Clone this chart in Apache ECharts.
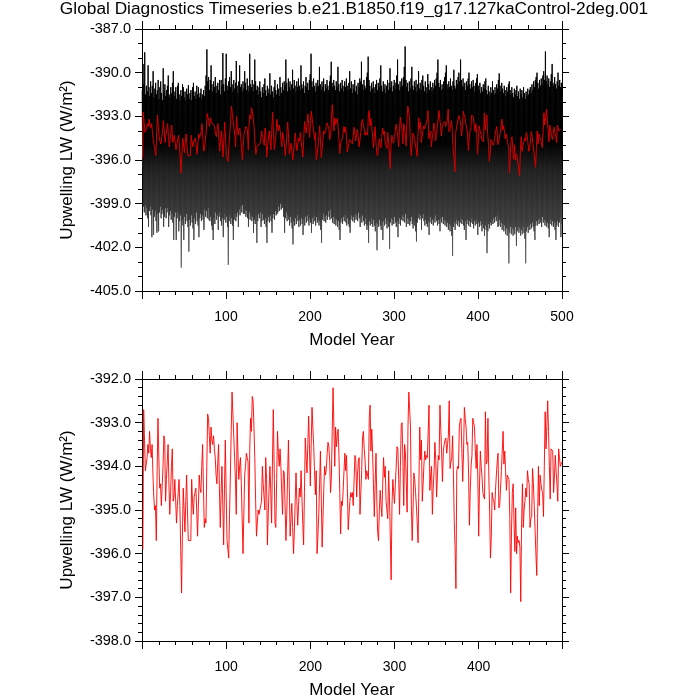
<!DOCTYPE html>
<html>
<head>
<meta charset="utf-8">
<script src="https://cdn.jsdelivr.net/npm/echarts@6/dist/echarts.min.js"></script>
<style>
html,body{margin:0;padding:0;background:#fff;}
#chart{width:700px;height:700px;}
</style>
</head>
<body>
<div id="chart"></div>
<script>
const titleText = 'Global Diagnostics Timeseries b.e21.B1850.f19_g17.127kaControl-2deg.001';
const yAxisTitle = 'Upwelling LW (W/m\u00B2)';
const xAxisTitle = 'Model Year';

// Annual global means (years 1..499)
const annualMean = [
-395.9,-392.7,-393.4,-394.1,-394.1,-393.8,-393.5,-393.7,-393.2,-393.6,
-393.8,-393.5,-394.2,-394.7,-395.0,-394.9,-395.7,-394.1,-392.9,-393.8,
-394.5,-394.4,-394.9,-394.9,-394.0,-393.3,-393.4,-394.8,-394.3,-393.9,
-393.5,-394.4,-395.1,-394.6,-394.0,-393.6,-394.8,-394.7,-394.3,-394.8,
-395.3,-394.9,-394.6,-394.3,-394.9,-395.9,-396.9,-395.6,-394.5,-395.0,
-395.5,-394.8,-394.2,-395.0,-395.7,-395.7,-395.7,-395.7,-394.3,-394.8,
-395.1,-394.7,-394.6,-394.5,-395.0,-395.6,-394.9,-394.2,-394.5,-394.6,
-394.0,-393.5,-394.5,-395.4,-395.2,-395.3,-394.0,-392.8,-392.9,-393.3,
-393.7,-393.1,-393.4,-393.5,-393.3,-393.6,-393.8,-394.2,-394.4,-393.9,
-393.5,-394.5,-395.4,-394.6,-394.0,-394.9,-395.8,-394.5,-393.4,-394.6,
-395.7,-395.9,-396.1,-395.1,-394.2,-393.2,-392.3,-392.8,-393.3,-393.8,
-394.3,-395.1,-393.0,-393.7,-394.3,-394.0,-393.8,-394.4,-395.2,-396.0,
-395.1,-394.2,-394.0,-393.7,-393.8,-393.9,-395.3,-393.6,-392.9,-393.2,
-392.4,-392.5,-393.1,-393.8,-394.8,-395.6,-395.3,-395.0,-395.1,-395.0,
-394.9,-394.8,-394.0,-394.4,-394.7,-395.0,-393.8,-394.3,-395.8,-395.1,
-394.5,-394.0,-394.6,-395.3,-393.9,-392.7,-394.0,-395.3,-395.4,-394.3,
-393.2,-393.7,-394.0,-393.6,-394.0,-394.6,-395.1,-394.1,-394.15,-394.9,
-395.7,-395.1,-394.2,-393.4,-394.5,-395.6,-395.2,-394.85,-395.4,-396.0,
-395.5,-394.8,-394.15,-394.8,-395.35,-394.9,-394.5,-394.7,-394.1,-394.7,
-395.3,-395.8,-394.6,-393.35,-393.8,-394.15,-393.5,-392.85,-393.6,-394.45,
-393.5,-392.65,-393.1,-393.55,-394.1,-394.65,-394.1,-396.0,-395.6,-395.1,
-394.4,-393.65,-394.7,-395.85,-395.2,-394.5,-394.0,-394.2,-394.05,-393.7,
-393.45,-393.55,-393.9,-394.6,-394.25,-393.2,-392.2,-393.1,-394.0,-393.1,
-393.55,-393.3,-393.15,-393.75,-394.6,-395.55,-394.8,-394.9,-394.55,-394.1,
-393.7,-394.1,-393.75,-394.5,-395.45,-395.1,-394.8,-394.6,-394.7,-394.6,
-394.9,-394.3,-393.75,-393.85,-394.7,-394.2,-393.9,-393.8,-395.1,-394.6,
-394.1,-393.35,-393.2,-393.6,-393.85,-394.3,-394.1,-394.2,-394.3,-392.9,
-392.6,-393.65,-393.15,-393.7,-394.4,-395.15,-394.4,-393.7,-394.8,-395.5,
-395.7,-395.0,-394.55,-394.9,-395.15,-394.4,-393.8,-394.25,-394.0,-394.8,
-395.0,-395.2,-394.1,-394.7,-395.6,-396.6,-394.9,-394.3,-394.6,-394.85,
-394.4,-394.0,-393.55,-393.6,-394.3,-395.1,-394.0,-393.05,-393.0,-393.9,
-394.9,-393.5,-393.7,-394.4,-395.05,-393.1,-392.3,-392.7,-393.1,-394.9,
-395.7,-395.0,-394.15,-394.3,-394.6,-394.9,-395.3,-395.75,-394.4,-393.1,
-393.85,-393.4,-394.8,-394.4,-393.95,-393.65,-393.85,-393.75,-393.8,-393.2,
-392.6,-394.55,-394.2,-394.0,-395.1,-394.5,-394.1,-393.45,-393.85,-394.7,
-394.2,-393.75,-393.85,-392.6,-393.15,-393.7,-394.35,-393.65,-393.5,-393.4,
-393.35,-393.7,-393.5,-393.3,-392.5,-394.05,-393.9,-393.8,-393.3,-394.2,
-395.25,-395.9,-396.8,-394.1,-394.0,-394.05,-393.1,-392.95,-392.9,-393.6,
-394.35,-393.7,-392.65,-392.9,-393.1,-393.5,-393.45,-394.15,-395.35,-394.55,
-394.0,-393.75,-392.9,-393.0,-393.1,-393.6,-394.05,-393.5,-394.25,-395.6,
-394.45,-393.65,-394.0,-394.25,-394.6,-394.7,-394.75,-392.75,-393.95,-393.9,
-392.9,-394.15,-395.0,-396.1,-395.6,-394.6,-394.75,-394.8,-395.0,-394.55,
-394.2,-393.9,-393.7,-394.95,-394.9,-394.5,-394.1,-394.1,-393.2,-393.95,
-393.65,-394.1,-394.55,-394.2,-394.25,-394.3,-395.2,-396.9,-395.5,-394.6,
-394.4,-395.3,-395.95,-394.95,-396.0,-395.6,-395.75,-395.7,-395.85,-397.1,
-395.3,-394.4,-395.4,-395.0,-394.8,-394.5,-394.7,-394.1,-394.3,-394.4,
-395.4,-395.2,-395.15,-394.05,-394.4,-394.9,-395.45,-396.0,-396.5,-395.2,
-394.0,-394.9,-394.2,-394.4,-394.55,-394.6,-395.15,-394.0,-392.75,-393.6,
-393.1,-392.5,-393.2,-394.0,-394.75,-393.6,-393.6,-393.65,-394.6,-394.25,
-393.75,-394.1,-394.4,-394.8,-393.6,-393.8,-394.0,-393.95,-393.9
];

// Monthly series summarised per year: highest (least negative) month of each year, years 1..500
const monthlyMax = [
-391.2,-389.4,-390.8,-388.6,-391.5,-390.9,-391.3,-389.5,-391.0,-391.6,
-390.6,-391.4,-390.9,-389.9,-391.7,-391.1,-390.7,-391.5,-391.2,-390.5,
-391.8,-391.0,-390.6,-391.4,-391.9,-389.7,-391.3,-390.8,-391.6,-391.2,
-390.9,-390.2,-391.5,-391.7,-391.0,-391.4,-390.7,-389.9,-391.6,-391.3,
-391.0,-391.8,-390.9,-390.7,-391.5,-391.9,-391.2,-391.6,-390.8,-391.0,
-391.7,-391.3,-391.9,-391.1,-391.5,-390.85,-391.8,-391.4,-391.2,-391.9,
-391.0,-390.7,-391.6,-391.3,-391.8,-390.9,-391.5,-391.0,-391.7,-391.4,
-391.1,-391.8,-391.5,-391.2,-391.6,-390.9,-390.2,-388.4,-390.6,-390.3,
-391.2,-390.5,-389.5,-390.8,-391.3,-390.6,-391.0,-390.3,-391.4,-390.9,
-390.7,-391.2,-390.5,-391.5,-390.5,-390.9,-388.65,-390.8,-391.3,-390.4,
-388.7,-390.9,-391.2,-390.6,-390.3,-391.0,-389.9,-390.8,-391.3,-390.5,
-391.1,-390.7,-389.2,-390.9,-391.4,-390.6,-389.5,-391.0,-390.8,-391.3,
-390.6,-391.1,-389.9,-390.7,-391.2,-390.4,-390.9,-391.3,-388.7,-390.8,
-391.0,-390.5,-391.3,-390.8,-389.1,-390.6,-391.2,-390.9,-391.5,-391.0,
-390.6,-391.3,-391.7,-391.0,-391.4,-390.8,-390.4,-391.2,-391.6,-390.9,
-391.4,-391.1,-390.05,-391.5,-390.9,-391.3,-391.7,-391.0,-390.5,-391.2,
-391.5,-390.8,-391.1,-391.6,-390.3,-391.0,-391.4,-390.7,-391.2,-390.6,
-390.9,-389.1,-390.7,-391.3,-390.4,-391.0,-390.6,-391.2,-390.8,-389.8,
-391.1,-390.5,-390.9,-391.3,-390.6,-391.0,-390.4,-390.9,-391.2,-389.5,
-390.8,-391.1,-390.6,-391.4,-390.9,-390.3,-391.0,-390.7,-391.2,-390.5,
-390.1,-388.7,-390.6,-391.0,-390.4,-390.9,-391.3,-390.7,-391.0,-390.5,
-390.9,-389.6,-390.8,-391.2,-390.6,-391.0,-390.4,-391.3,-390.8,-391.1,
-390.5,-390.9,-391.2,-390.6,-390.2,-389.25,-390.7,-391.0,-390.5,-390.9,
-391.2,-390.6,-391.0,-389.6,-390.8,-391.3,-390.7,-391.1,-390.5,-390.9,
-391.3,-390.6,-391.0,-390.4,-390.9,-391.2,-390.7,-389.9,-391.1,-390.6,
-391.4,-390.8,-391.1,-390.5,-391.3,-390.9,-391.5,-390.7,-391.0,-390.4,
-390.6,-389.25,-390.8,-391.2,-390.5,-390.9,-391.1,-390.3,-390.0,-388.9,
-390.5,-390.9,-391.3,-390.7,-391.1,-390.6,-391.0,-391.4,-390.8,-390.5,
-391.2,-390.7,-391.0,-390.4,-389.5,-390.9,-391.3,-390.6,-391.1,-390.8,
-391.4,-390.9,-390.5,-391.2,-390.7,-389.7,-391.0,-390.6,-391.3,-390.9,
-390.5,-391.1,-390.7,-390.2,-389.1,-390.8,-391.2,-390.6,-391.0,-390.4,
-390.9,-390.3,-389.6,-388.2,-390.5,-391.0,-390.7,-391.3,-390.6,-391.1,
-390.4,-389.6,-390.9,-391.2,-390.6,-391.0,-390.5,-391.3,-390.8,-389.9,
-391.1,-390.7,-391.2,-390.5,-390.2,-390.9,-391.3,-390.6,-391.0,-391.4,
-390.1,-390.8,-391.2,-390.6,-391.0,-391.3,-390.7,-391.1,-390.5,-390.9,
-390.4,-390.0,-389.1,-390.7,-391.0,-390.5,-391.2,-390.8,-391.1,-390.6,
-390.3,-390.0,-389.5,-390.8,-391.1,-390.6,-391.0,-390.4,-390.9,-391.2,
-390.6,-389.8,-390.9,-391.1,-390.5,-390.8,-390.3,-390.0,-390.6,-389.1,
-390.5,-390.9,-390.4,-391.0,-390.7,-391.2,-390.6,-390.9,-390.4,-390.0,
-390.8,-391.1,-390.6,-391.0,-390.5,-390.9,-391.3,-390.7,-390.4,-390.1,
-390.9,-391.2,-390.7,-391.4,-391.0,-391.3,-390.8,-391.1,-390.6,-390.4,
-391.2,-391.5,-390.9,-391.3,-391.6,-391.0,-391.4,-390.6,-391.2,-391.5,
-391.0,-391.4,-390.8,-391.1,-390.5,-390.05,-390.9,-391.3,-390.7,-391.1,
-391.4,-390.9,-391.2,-391.6,-391.0,-391.3,-390.8,-390.6,-391.2,-391.5,
-391.0,-391.4,-391.7,-391.1,-391.5,-391.2,-390.9,-391.6,-391.3,-391.8,
-391.1,-391.5,-391.2,-391.7,-391.0,-391.4,-391.8,-391.3,-391.6,-391.1,
-391.5,-391.2,-391.0,-391.4,-390.8,-391.2,-390.6,-391.0,-390.5,-390.3,
-390.0,-390.7,-391.1,-390.5,-390.9,-390.4,-390.8,-390.2,-389.9,-390.5,
-388.55,-390.6,-390.2,-390.8,-390.4,-391.0,-390.6,-390.1,-389.4,-390.7,
-390.9,-390.3,-390.8,-391.1,-390.6,-390.0,-390.9,-390.5,-391.0,-390.7
];

// Monthly series summarised per year: lowest (most negative) month of each year, years 1..500
const monthlyMin = [
-396.5,-399.2,-399.6,-399.1,-399.8,-399.3,-400.0,-400.6,-399.5,-399.2,
-399.8,-401.3,-399.4,-401.15,-399.9,-399.5,-400.2,-401.0,-399.7,-400.9,
-399.6,-399.2,-400.0,-399.7,-399.4,-400.6,-399.9,-399.3,-400.0,-399.6,
-399.3,-400.6,-399.8,-399.5,-400.1,-399.7,-400.3,-401.5,-399.9,-399.6,
-401.5,-400.0,-399.6,-400.9,-400.2,-399.8,-403.4,-400.1,-400.5,-401.5,
-399.9,-400.4,-399.7,-400.2,-400.6,-402.3,-400.1,-400.5,-399.8,-400.3,
-400.7,-401.5,-400.0,-400.4,-399.6,-400.2,-400.5,-401.3,-400.0,-399.7,
-400.2,-399.8,-400.1,-400.8,-399.4,-399.9,-399.5,-400.0,-399.3,-400.1,
-400.2,-399.9,-400.5,-400.8,-401.5,-400.0,-400.4,-399.6,-400.1,-399.8,
-400.8,-399.9,-399.6,-400.2,-400.5,-400.0,-401.3,-400.1,-399.7,-400.3,
-399.9,-400.6,-403.2,-400.2,-399.8,-400.4,-400.0,-400.5,-401.5,-400.1,
-399.7,-400.2,-399.9,-399.6,-400.6,-399.4,-399.8,-399.2,-399.6,-399.1,
-399.7,-399.7,-399.4,-399.9,-399.5,-400.0,-400.6,-399.6,-400.1,-399.8,
-400.2,-399.9,-401.0,-400.1,-400.4,-399.8,-401.7,-400.2,-399.7,-400.0,
-399.6,-400.6,-400.2,-399.7,-400.1,-400.4,-400.0,-400.6,-401.7,-400.2,
-399.9,-400.3,-399.8,-400.2,-401.0,-400.0,-399.7,-400.1,-399.5,-399.8,
-399.7,-399.6,-399.2,-399.5,-399.0,-399.4,-399.2,-399.3,-399.9,-401.0,
-400.0,-399.6,-400.2,-399.8,-400.1,-400.5,-399.9,-400.3,-400.7,-401.8,
-400.2,-400.5,-400.0,-400.4,-399.8,-400.2,-400.6,-400.1,-400.5,-400.0,
-400.4,-401.15,-400.1,-400.5,-399.9,-400.3,-399.8,-400.2,-400.5,-400.0,
-400.3,-401.0,-400.0,-400.4,-399.8,-400.2,-400.5,-399.9,-400.3,-400.1,
-400.5,-400.2,-400.8,-401.7,-400.1,-399.7,-400.2,-399.9,-400.3,-399.8,
-400.1,-399.5,-399.9,-400.1,-399.4,-400.0,-400.3,-399.9,-400.4,-400.0,
-400.5,-400.1,-400.6,-400.2,-400.8,-401.5,-400.3,-400.0,-400.4,-399.9,
-400.2,-399.8,-400.3,-400.5,-400.0,-400.4,-400.6,-401.0,-400.1,-399.8,
-400.2,-399.9,-400.3,-399.7,-400.1,-399.8,-400.2,-399.6,-400.0,-400.6,
-399.9,-400.3,-399.8,-400.2,-400.5,-400.0,-400.4,-400.8,-400.5,-401.7,
-400.2,-400.5,-400.0,-400.4,-400.6,-400.1,-400.5,-400.9,-400.3,-402.2,
-400.4,-400.6,-400.1,-400.5,-400.8,-400.3,-401.5,-400.2,-400.5,-400.0,
-400.4,-400.7,-400.2,-400.6,-402.1,-400.3,-400.0,-400.5,-400.1,-400.4,
-399.9,-400.3,-400.6,-400.2,-401.3,-400.4,-400.0,-400.5,-400.1,-399.8,
-400.2,-399.9,-400.3,-399.7,-400.6,-400.0,-400.4,-400.1,-400.5,-400.2,
-399.9,-400.4,-400.7,-400.2,-400.5,-400.9,-401.6,-400.3,-400.0,-399.7,
-400.1,-399.8,-400.8,-400.0,-399.7,-400.2,-400.5,-400.1,-400.4,-400.6,
-400.2,-401.15,-400.3,-399.9,-400.4,-400.1,-400.5,-400.0,-400.3,-399.8,
-400.2,-400.5,-400.1,-400.4,-400.9,-400.0,-400.3,-399.9,-400.4,-400.1,
-400.5,-400.2,-400.6,-400.3,-400.8,-400.4,-400.9,-400.5,-401.2,-402.6,
-400.6,-400.3,-400.8,-400.4,-400.1,-400.5,-400.2,-400.6,-400.3,-400.0,
-400.4,-400.1,-400.5,-400.8,-400.2,-401.5,-400.4,-400.1,-400.5,-400.2,
-400.6,-400.3,-400.0,-400.4,-400.7,-400.2,-400.5,-400.1,-400.4,-401.15,
-400.3,-400.6,-400.2,-400.5,-400.9,-400.4,-400.7,-401.2,-400.5,-400.8,
-402.4,-400.9,-400.4,-400.7,-400.3,-400.5,-400.1,-400.4,-400.0,-400.3,
-399.9,-400.2,-399.8,-400.6,-400.5,-400.1,-400.6,-400.3,-400.8,-400.4,
-400.9,-400.5,-401.1,-400.7,-401.2,-400.8,-403.1,-401.0,-400.6,-401.1,
-400.7,-401.2,-400.8,-401.1,-400.6,-401.9,-400.9,-400.6,-401.0,-400.7,
-401.2,-400.8,-401.1,-400.6,-401.0,-401.4,-403.1,-400.9,-400.6,-401.0,
-400.5,-400.8,-400.4,-400.7,-400.3,-400.6,-400.9,-401.5,-400.5,-400.2,
-400.5,-400.1,-400.4,-400.0,-400.3,-400.6,-399.9,-400.3,-400.1,-400.5,
-400.2,-400.6,-400.3,-400.7,-401.3,-400.4,-400.1,-400.5,-400.2,-400.6,
-400.3,-400.8,-401.5,-400.5,-400.2,-400.6,-400.3,-400.0,-401.3,-400.4
];

// Axis settings (values / tick steps)
const topY = {min: -405, max: -387, step: 3};
const botY = {min: -398, max: -392, step: 1};
const topX = {min: 0, max: 500, step: 100};
const botX = {min: 0, max: 499, step: 100};

// Build series data from arrays
const monthlyPts = [];
for (let i = 0; i < monthlyMax.length; i++) {
  monthlyPts.push([i + 0.25, monthlyMax[i]]);
  monthlyPts.push([i + 0.75, monthlyMin[i]]);
}
const annualTop = annualMean.map((v, i) => [i + 0.5, v]);
const annualBot = annualMean.map((v, i) => [i + 1, v]);

const FONT = "'Liberation Sans', Arial, Helvetica, sans-serif";
const BLACK = '#000';

function xAx(gridIndex, r, pos, withLabels) {
  return {
    type: 'value', gridIndex, position: pos,
    min: r.min, max: r.max, interval: r.step,
    axisLine: {show: true, onZero: false, lineStyle: {color: BLACK, width: 1}},
    axisTick: {show: true, length: 8, lineStyle: {color: BLACK, width: 1}},
    minorTick: {show: true, splitNumber: 5, length: 4, lineStyle: {color: BLACK, width: 1}},
    splitLine: {show: false},
    minorSplitLine: {show: false},
    axisLabel: withLabels ? {
      show: true, margin: 19, fontSize: 14, color: BLACK, fontFamily: FONT,
      formatter: v => (v > 0 && v % 100 === 0) ? String(v) : ''
    } : {show: false},
    name: withLabels ? xAxisTitle : '',
    nameLocation: 'middle', nameGap: 41,
    nameTextStyle: {fontSize: 17, color: BLACK, fontFamily: FONT}
  };
}
function yAx(gridIndex, r, pos, withLabels, minorSplit) {
  return {
    type: 'value', gridIndex, position: pos,
    min: r.min, max: r.max, interval: r.step,
    axisLine: {show: true, onZero: false, lineStyle: {color: BLACK, width: 1}},
    axisTick: {show: true, length: 7, lineStyle: {color: BLACK, width: 1}},
    minorTick: {show: true, splitNumber: minorSplit, length: 4, lineStyle: {color: BLACK, width: 1}},
    splitLine: {show: false},
    minorSplitLine: {show: false},
    axisLabel: withLabels ? {
      show: true, margin: 11, fontSize: 14.5, color: BLACK, fontFamily: FONT,
      formatter: v => v.toFixed(1)
    } : {show: false},
    name: withLabels ? yAxisTitle : '',
    nameLocation: 'middle', nameGap: 66, nameRotate: 90,
    nameTextStyle: {fontSize: 17, color: BLACK, fontFamily: FONT}
  };
}

const chart = echarts.init(document.getElementById('chart'), null, {renderer: 'canvas'});
chart.setOption({
  animation: false,
  backgroundColor: '#fff',
  graphic: [{
    type: 'text', x: 354, y: 1,
    style: {text: titleText, fontSize: 17.3, fontFamily: FONT, fill: BLACK, textAlign: 'center', textVerticalAlign: 'top'}
  }],
  grid: [
    {left: 142, width: 420, top: 29, height: 262, containLabel: false},
    {left: 142, width: 420, top: 379, height: 262, containLabel: false}
  ],
  xAxis: [
    xAx(0, topX, 'bottom', true),
    xAx(0, topX, 'top', false),
    xAx(1, botX, 'bottom', true),
    xAx(1, botX, 'top', false)
  ],
  yAxis: [
    yAx(0, topY, 'left', true, 3),
    yAx(0, topY, 'right', false, 3),
    yAx(1, botY, 'left', true, 5),
    yAx(1, botY, 'right', false, 5)
  ],
  series: [
    {
      type: 'line', xAxisIndex: 0, yAxisIndex: 0, data: monthlyPts,
      symbol: 'none', showSymbol: false, silent: true, z: 2,
      lineStyle: {
        width: 1,
        color: {type: 'linear', x: 0, y: 0, x2: 0, y2: 1, global: false, colorStops: [
          {offset: 0, color: '#000'}, {offset: 0.44, color: '#000'},
          {offset: 0.56, color: '#202020'}, {offset: 0.78, color: '#3c3c3c'},
          {offset: 1, color: '#707070'}
        ]}
      }
    },
    {
      type: 'line', xAxisIndex: 0, yAxisIndex: 0, data: annualTop,
      symbol: 'none', showSymbol: false, silent: true, z: 3,
      lineStyle: {width: 1, color: '#d40000'}
    },
    {
      type: 'line', xAxisIndex: 2, yAxisIndex: 2, data: annualBot,
      symbol: 'none', showSymbol: false, silent: true, z: 3,
      lineStyle: {width: 0.9, color: '#ff0000'}
    }
  ]
});
</script>
</body>
</html>
